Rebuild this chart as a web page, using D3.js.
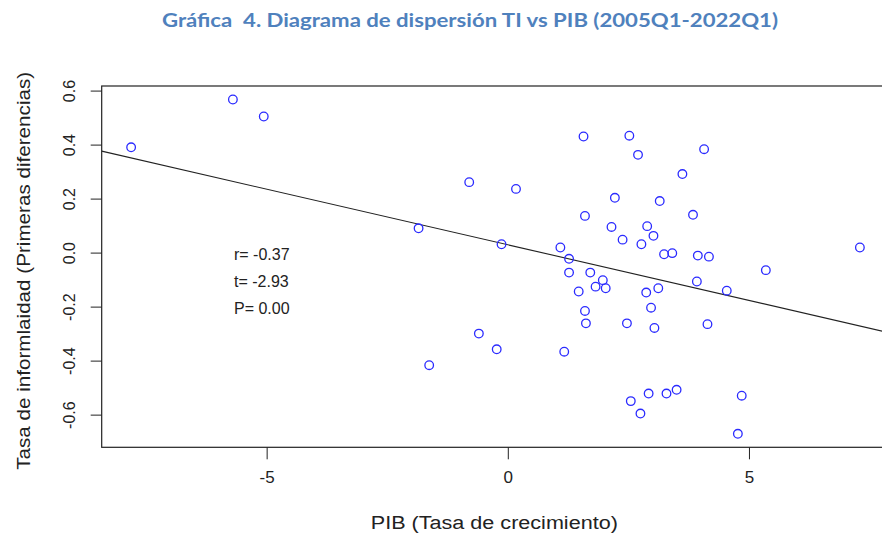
<!DOCTYPE html>
<html>
<head>
<meta charset="utf-8">
<script src="https://cdn.jsdelivr.net/npm/d3@7/dist/d3.min.js"></script>
<style>
  html, body { margin: 0; padding: 0; background: #fff; }
  svg { display: block; }
</style>
</head>
<body>
<svg id="chart" width="882" height="536"></svg>
<script>
// ---- Data ----
const pib = [
  -7.81, -5.70, -5.06, -1.85, -1.63, -0.80, -0.60, -0.23, -0.13, 0.17,
  1.57, 2.52, 2.70, 4.07, 3.62, 2.22, 3.15, 1.60, 3.84, 2.15,
  2.89, 2.38, 3.02, 2.77, 1.09, 3.24, 3.41, 3.94, 4.17, 1.27,
  1.27, 1.71, 1.97, 3.92, 5.35, 1.82, 2.03, 1.47, 2.87, 3.12,
  4.54, 1.60, 2.97, 1.62, 2.47, 3.04, 4.14, 1.17, 3.50, 2.92,
  3.29, 4.85, 2.55, 2.75, 4.77, 7.30
];
const ti = [
  0.390, 0.567, 0.504, 0.090, -0.417, 0.261, -0.300, -0.358, 0.031, 0.236,
  0.430, 0.433, 0.362, 0.383, 0.291, 0.203, 0.191, 0.136, 0.140, 0.095,
  0.098, 0.048, 0.062, 0.031, 0.019, -0.006, -0.002, -0.011, -0.015, -0.023,
  -0.074, -0.074, -0.102, -0.107, -0.065, -0.126, -0.132, -0.144, -0.148, -0.132,
  -0.141, -0.216, -0.204, -0.262, -0.262, -0.279, -0.265, -0.367, -0.508, -0.522,
  -0.522, -0.530, -0.550, -0.596, -0.671, 0.019
];
const fitIntercept = 0.029;
const fitSlope = -0.0412;
const xTicks = [-5, 0, 5];
const yTicks = [-0.6, -0.4, -0.2, 0.0, 0.2, 0.4, 0.6];
const statLabels = ["r= -0.37", "t= -2.93", "P= 0.00"];
const titleText = "Gráfica  4. Diagrama de dispersión TI vs PIB (2005Q1-2022Q1)";
const xLabel = "PIB (Tasa de crecimiento)";
const yLabel = "Tasa de informlaidad (Primeras diferencias)";

// ---- Layout ----
const plot = { left: 101.7, right: 884, top: 86, bottom: 447.3 };
const xDomain = [-8.42, 7.80];
const yDomain = [-0.721, 0.617];
const rFont = "'Liberation Sans', Arial, sans-serif";

const svg = d3.select("#chart");
const x = d3.scaleLinear().domain(xDomain).range([plot.left, plot.right]);
const y = d3.scaleLinear().domain(yDomain).range([plot.bottom, plot.top]);

// Title
svg.append("text")
  .attr("x", 162).attr("y", 27)
  .attr("xml:space", "preserve")
  .style("white-space", "pre")
  .attr("textLength", 616).attr("lengthAdjust", "spacingAndGlyphs")
  .attr("font-family", "Lato, 'Open Sans', sans-serif")
  .attr("font-weight", "bold")
  .attr("font-size", 19)
  .attr("fill", "#4f81bd")
  .text(titleText);

// Clip for plot region
svg.append("defs").append("clipPath").attr("id", "plotclip")
  .append("rect")
  .attr("x", plot.left).attr("y", plot.top)
  .attr("width", plot.right - plot.left).attr("height", plot.bottom - plot.top);

// Axes (R style: ticks outside, labels)
const xAxis = d3.axisBottom(x).tickValues(xTicks).tickSize(12).tickPadding(6)
  .tickFormat(d => d3.format("d")(d).replace("−", "-"));
const gx = svg.append("g").attr("transform", `translate(0,${plot.bottom})`).call(xAxis);
gx.select(".domain").remove();
gx.selectAll("line").attr("stroke", "#222");
gx.selectAll("text")
  .attr("font-family", rFont).attr("font-size", 17).attr("fill", "#222")
  .attr("dy", "1.05em");

const yAxis = d3.axisLeft(y).tickValues(yTicks).tickSize(11).tickPadding(0)
  .tickFormat(d => d3.format(".1f")(d).replace("−", "-"));
const gy = svg.append("g").attr("transform", `translate(${plot.left},0)`).call(yAxis);
gy.select(".domain").remove();
gy.selectAll("line").attr("stroke", "#222");
gy.selectAll("text")
  .attr("font-family", rFont).attr("font-size", 16).attr("fill", "#222")
  .attr("x", 0).attr("dy", 0)
  .attr("text-anchor", "middle")
  .attr("transform", "translate(-27,0) rotate(-90)");

// Box
svg.append("rect")
  .attr("x", plot.left).attr("y", plot.top)
  .attr("width", plot.right - plot.left).attr("height", plot.bottom - plot.top)
  .attr("fill", "none").attr("stroke", "#222").attr("stroke-width", 1.2);

const inner = svg.append("g").attr("clip-path", "url(#plotclip)");

// Regression line
inner.append("line")
  .attr("x1", x(xDomain[0])).attr("y1", y(fitIntercept + fitSlope * xDomain[0]))
  .attr("x2", x(xDomain[1])).attr("y2", y(fitIntercept + fitSlope * xDomain[1]))
  .attr("stroke", "#222").attr("stroke-width", 1.1);

// Points
const pts = pib.map((v, i) => ({ x: v, y: ti[i] }));
inner.selectAll("circle.pt").data(pts).enter().append("circle")
  .attr("class", "pt")
  .attr("cx", d => x(d.x)).attr("cy", d => y(d.y))
  .attr("r", 4.3)
  .attr("fill", "none")
  .attr("stroke", "#2b2bff")
  .attr("stroke-width", 1.3);

// Stats text
svg.selectAll("text.stat").data(statLabels).enter().append("text")
  .attr("class", "stat")
  .attr("x", 234)
  .attr("y", (d, i) => 260 + i * 27)
  .attr("font-family", rFont).attr("font-size", 16).attr("fill", "#222")
  .text(d => d);

// Axis titles
svg.append("text")
  .attr("x", (370.7 + 618) / 2).attr("y", 529)
  .attr("text-anchor", "middle")
  .attr("textLength", 247).attr("lengthAdjust", "spacingAndGlyphs")
  .attr("font-family", rFont).attr("font-size", 18).attr("fill", "#222")
  .text(xLabel);

svg.append("text")
  .attr("transform", `translate(30,${(71.7 + 470) / 2}) rotate(-90)`)
  .attr("text-anchor", "middle")
  .attr("textLength", 398).attr("lengthAdjust", "spacingAndGlyphs")
  .attr("font-family", rFont).attr("font-size", 19).attr("fill", "#222")
  .text(yLabel);
</script>
</body>
</html>
